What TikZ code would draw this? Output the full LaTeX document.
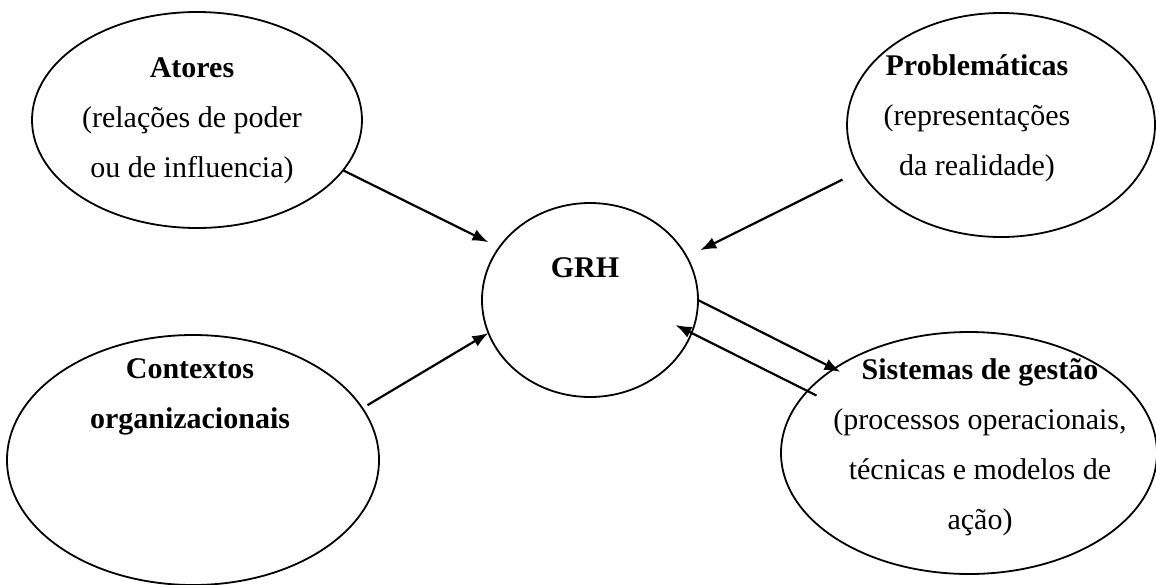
\documentclass[tikz,border=0pt]{standalone}
\usepackage{fontspec}
\setmainfont{Liberation Serif}
\usepackage{tikz}
\usetikzlibrary{shapes.geometric}
\usetikzlibrary{arrows.meta}

\begin{document}
\begin{tikzpicture}[x=0.5pt,y=-0.5pt,
  bola/.style={draw, ellipse, line width=0.9pt, inner sep=0pt, outer sep=0pt},
  texto/.style={align=center, inner sep=0pt, font=\fontsize{15}{25}\selectfont},
  seta/.style={line width=1.1pt, -{Latex[length=8pt,width=6pt]}}]
\useasboundingbox (0,0) rectangle (1156,584);

\node[bola, minimum width=165pt, minimum height=108pt] (atores) at (197,120) {};
\node[texto] (atoresTxt) at (192,121) {\textbf{Atores}\\(relações de poder\\ou de influencia)};

\node[bola, minimum width=154pt, minimum height=112pt] (probl) at (1001,125) {};
\node[texto] (problTxt) at (977,118) {\textbf{Problemáticas}\\(representações\\da realidade)};

\node[bola, minimum width=108pt, minimum height=97pt] (grh) at (590,300) {};
\node[texto] (grhTxt) at (585,268) {\textbf{GRH}};

\node[bola, minimum width=186pt, minimum height=125pt] (contextos) at (193,460) {};
\node[texto] (contextosTxt) at (190,397) {\textbf{Contextos}\\\textbf{organizacionais}};

\node[bola, minimum width=188pt, minimum height=121pt] (sistemas) at (969,453) {};
\node[texto] (sistemasTxt) at (980,447) {\textbf{Sistemas de gestão}\\(processos operacionais,\\técnicas e modelos de\\ação)};

\draw[seta, shorten >=6pt] (atores.-19) -- (grh.150);
\draw[seta, shorten <=10pt, shorten >=7.5pt] (probl.198) -- (grh.24);
\draw[seta, shorten <=3pt] (contextos.17) -- (grh.198);
\draw[seta, shorten >=-3.5pt] (grh.0) -- (sistemas.148);
\draw[seta, shorten <=-5pt, shorten >=-9pt] (sistemas.159) -- (grh.-18);

\end{tikzpicture}
\end{document}
